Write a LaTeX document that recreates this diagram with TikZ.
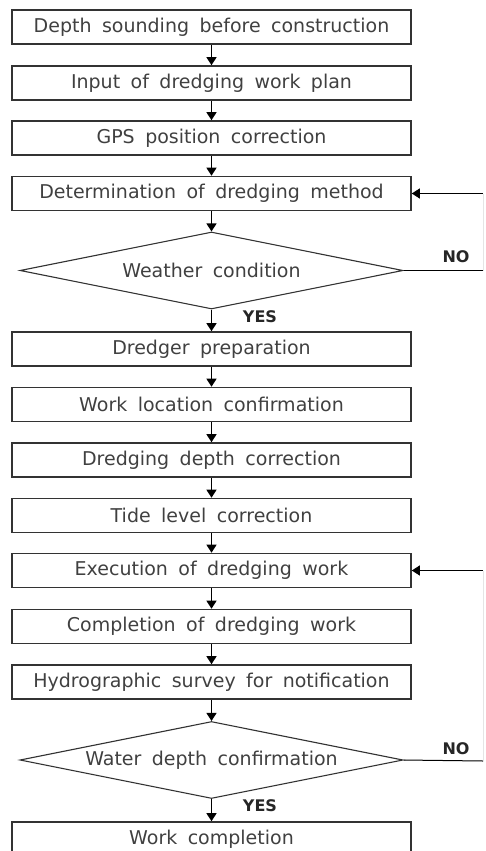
\documentclass[tikz,border=0pt]{standalone}
\usepackage{fontspec}
\setmainfont{DejaVu Sans}
\usetikzlibrary{shapes.geometric,arrows.meta}
\newcommand{\boxfont}{\fontsize{19}{22}\selectfont\spaceskip=0.55em plus 0.1em}
\tikzstyle{stage}=[draw=black!80,line width=1.6pt,minimum width=399pt,minimum height=34pt,inner sep=0pt,text=black!75,font=\boxfont]
\tikzstyle{check}=[diamond,aspect=4.97,draw=black!80,line width=1.1pt,minimum width=383pt,minimum height=77pt,inner sep=0pt,text=black!75,font=\boxfont]
\tikzstyle{flow}=[-{Triangle[length=8pt,width=10pt]},line width=1.3pt]
\tikzstyle{answer}=[font=\bfseries\fontsize{16}{19}\selectfont,text=black!85]
\tikzstyle{back}=[line width=1pt]

\begin{document}
\begin{tikzpicture}[x=1pt,y=-1pt]
  \useasboundingbox (0,0) rectangle (485,851);
  % main chain
  \node[stage] (sound)    at (211.5,27)  {Depth sounding before construction};
  \node[stage] (plan)     at (211.5,83)  {Input of dredging work plan};
  \node[stage] (gps)      at (211.5,138) {GPS position correction};
  \node[stage] (method)   at (211.5,193.5) {Determination of dredging method};
  \node[check] (weather)  at (211.5,270.5) {Weather condition};
  \node[stage] (dredger)  at (211.5,349) {Dredger preparation};
  \node[stage] (location) at (211.5,404.5) {Work location confirmation};
  \node[stage] (depth)    at (211.5,460) {Dredging depth correction};
  \node[stage] (tide)     at (211.5,515.5) {Tide level correction};
  \node[stage] (execute)  at (211.5,570.5) {Execution of dredging work};
  \node[stage] (complete) at (211.5,626.5) {Completion of dredging work};
  \node[stage] (survey)   at (211.5,682) {Hydrographic survey for notification};
  \node[check] (water)    at (211.5,760) {Water depth confirmation};
  \node[stage] (finish)   at (211.5,839) {Work completion};
  \foreach \a/\b in {sound/plan,plan/gps,gps/method,method/weather,weather/dredger,
    dredger/location,location/depth,depth/tide,tide/execute,execute/complete,
    complete/survey,survey/water,water/finish}
    \draw[flow] (\a) -- (\b);
  % answers
  \node[answer] (yes1) at (260,317) {YES};
  \node[answer] (yes2) at (260,806) {YES};
  \node[answer] (no1)  at (456,257) {NO};
  \node[answer] (no2)  at (456,749) {NO};
  % loops back
  \coordinate (r1) at (483,270.5);
  \coordinate (r2) at (483,761);
  \draw[back] (weather.east) -- (r1);
  \draw[back] (water.east) -- (r2);
  \draw[gray!20,line width=0.5pt] (r1) -- (r1 |- method.east);
  \draw[gray!20,line width=0.5pt] (r2) -- (r2 |- execute.east);
  \draw[flow,line width=1pt] (r1 |- method.east) -- (method.east);
  \draw[flow,line width=1pt] (r2 |- execute.east) -- (execute.east);
\end{tikzpicture}
\end{document}
